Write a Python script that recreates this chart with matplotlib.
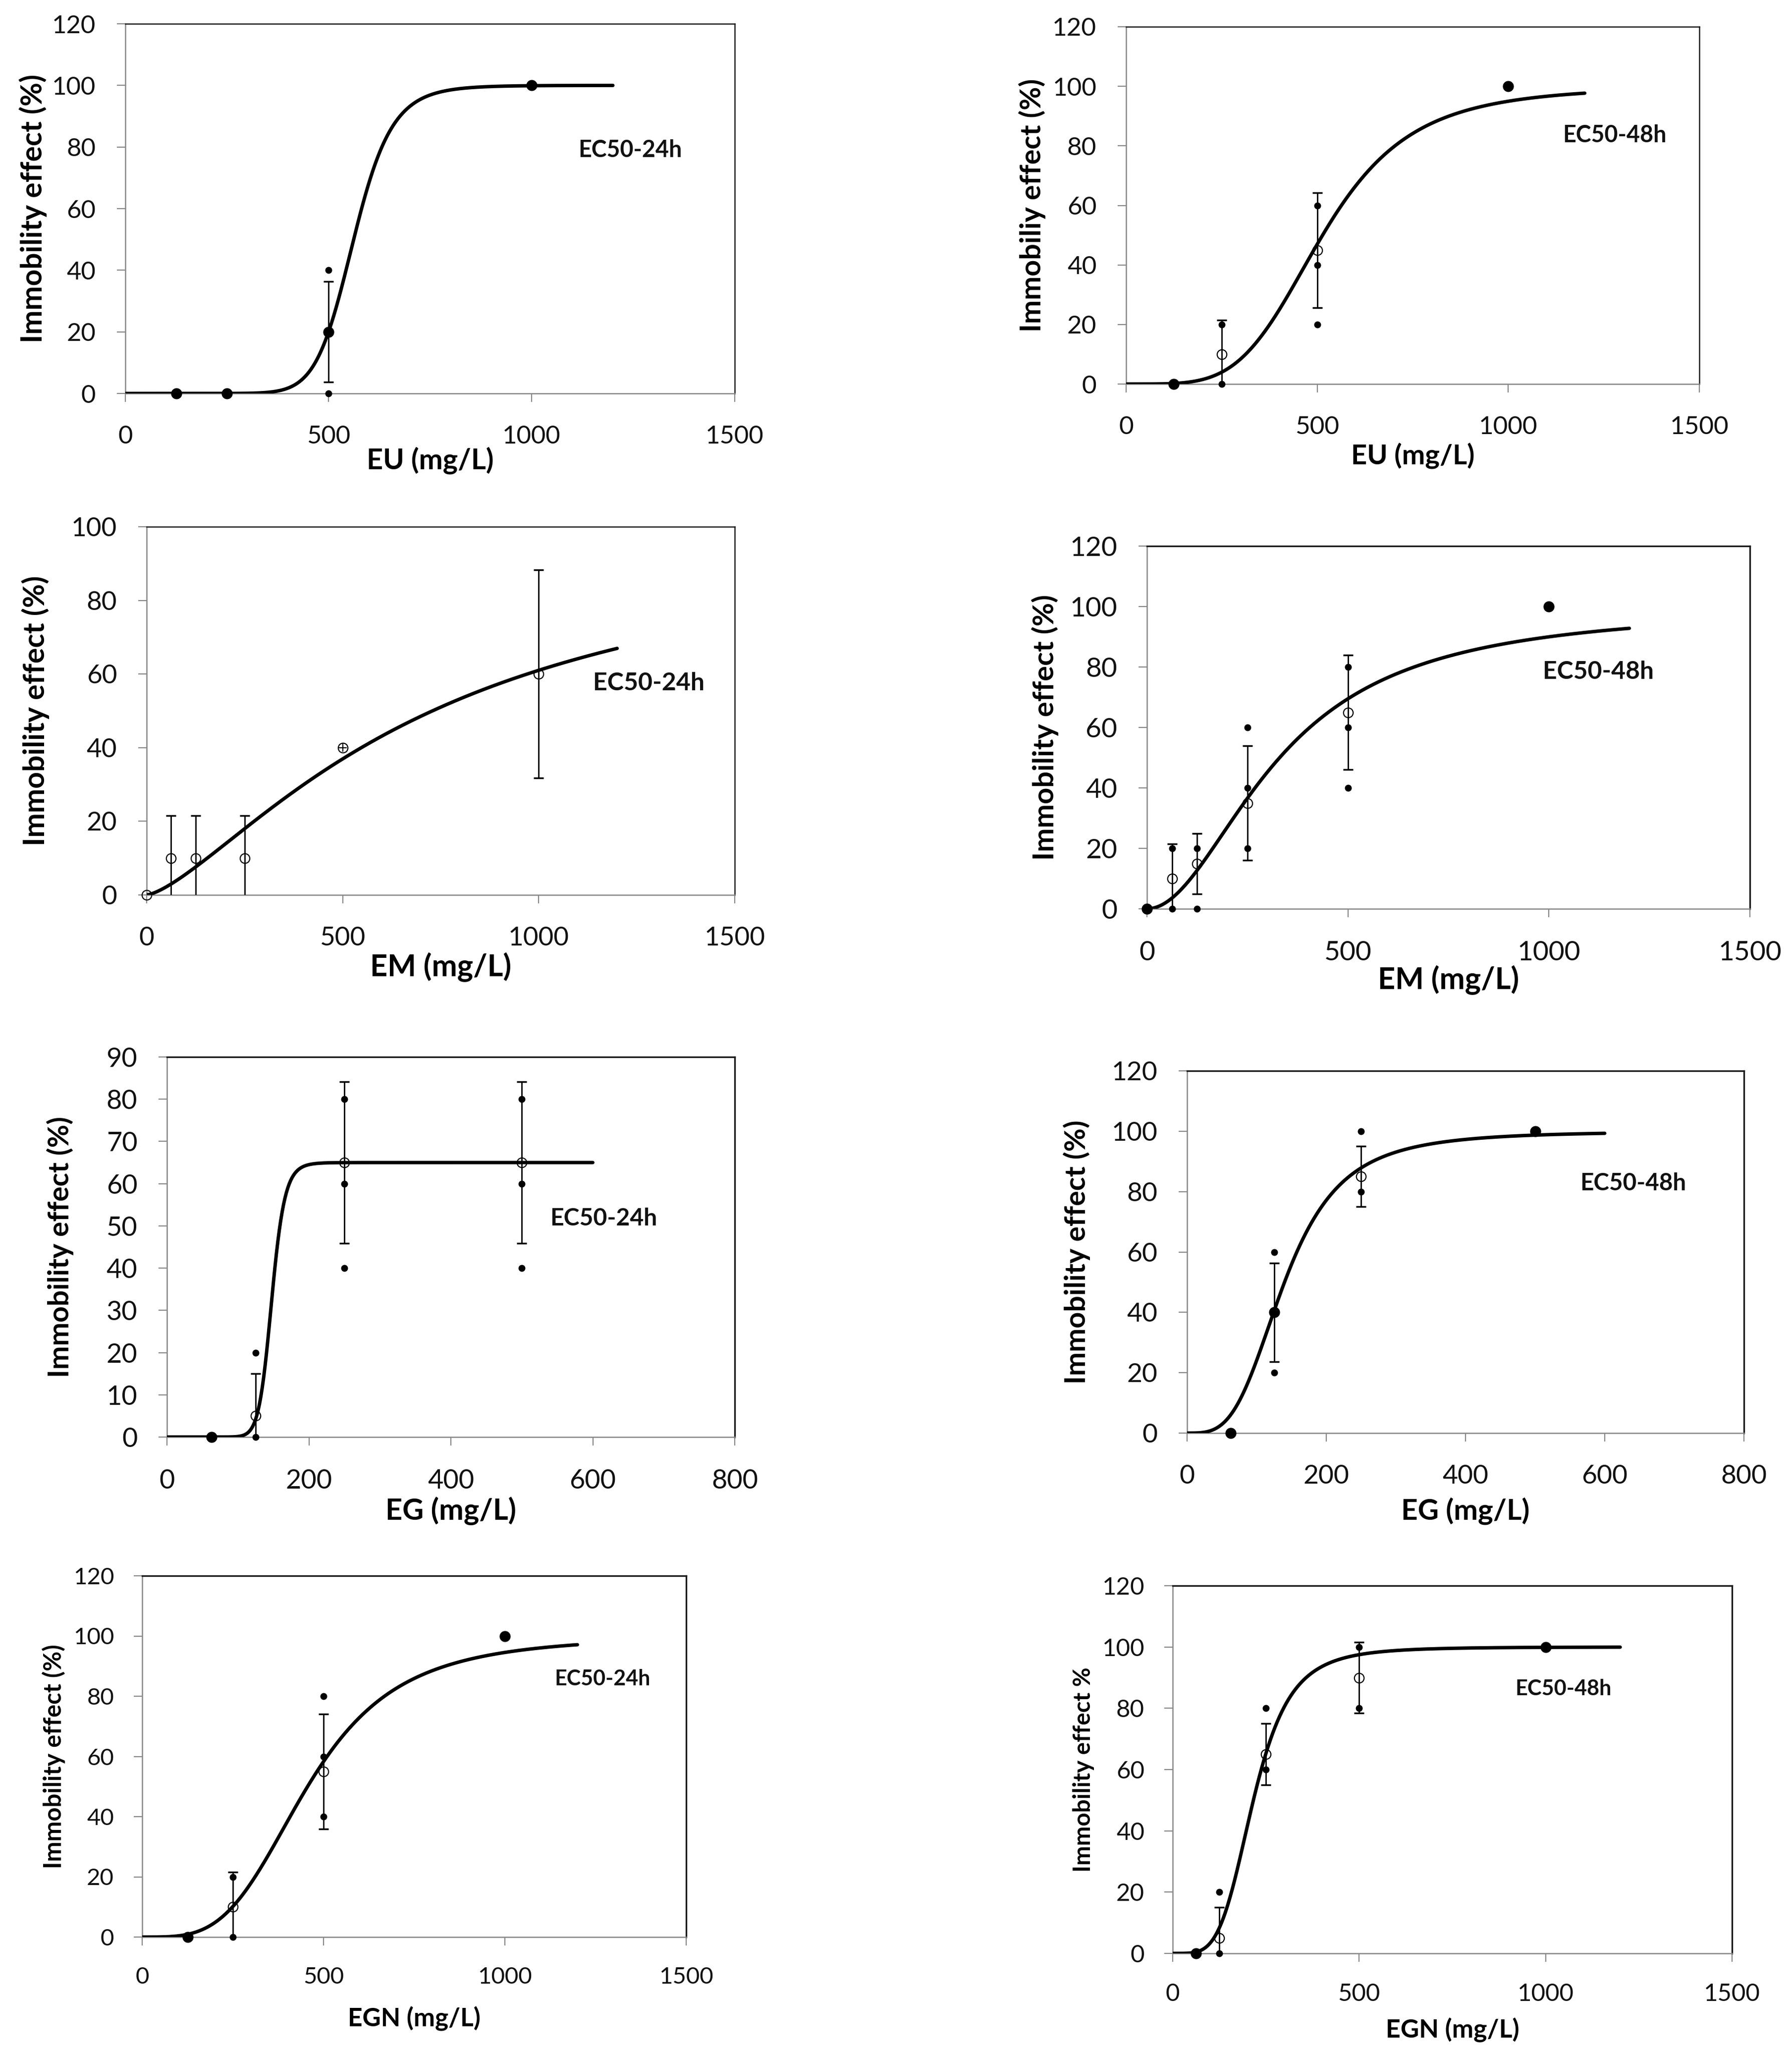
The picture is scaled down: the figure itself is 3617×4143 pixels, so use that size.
import numpy as np
import matplotlib
matplotlib.use("Agg")
import matplotlib.pyplot as plt

plt.rcParams['font.family'] = ['Lato', 'DejaVu Sans']

# ---------------- data ----------------
# EU 24h
EU24_conc = [125, 250, 500, 1000]
EU24_mean = [0, 0, 20, 100]
EU24_sd = [0, 0, 16.3, 0]
EU24_open = [False, False, False, False]
EU24_rep_conc = [500, 500]
EU24_rep_val = [40, 0]
EU24_fit = (100, 562, 11.9)      # top, EC50, Hill slope of fitted curve

# EU 48h
EU48_conc = [125, 250, 500, 1000]
EU48_mean = [0, 10, 45, 100]
EU48_sd = [0, 11.5, 19.3, 0]
EU48_open = [False, True, True, False]
EU48_rep_conc = [250, 250, 500, 500, 500]
EU48_rep_val = [20, 0, 60, 40, 20]
EU48_fit = (100, 514, 4.42)

# EM 24h
EM24_conc = [0, 62.5, 125, 250, 500, 1000]
EM24_mean = [0, 10, 10, 10, 40, 60]
EM24_sd = [0, 11.5, 11.5, 11.5, 0, 28.3]
EM24_open = [True, True, True, True, True, True]
EM24_rep_conc = []
EM24_rep_val = []
EM24_fit = (100, 729, 1.417)

# EM 48h
EM48_conc = [0, 62.5, 125, 250, 500, 1000]
EM48_mean = [0, 10, 15, 35, 65, 100]
EM48_sd = [0, 11.5, 10, 19, 19, 0]
EM48_open = [False, True, True, True, True, False]
EM48_rep_conc = [62.5, 62.5, 125, 125, 250, 250, 250, 500, 500, 500]
EM48_rep_val = [20, 0, 20, 0, 60, 40, 20, 80, 60, 40]
EM48_fit = (100, 330, 1.98)

# EG 24h
EG24_conc = [62.5, 125, 250, 500]
EG24_mean = [0, 5, 65, 65]
EG24_sd = [0, 10, 19.1, 19.1]
EG24_open = [False, True, True, True]
EG24_rep_conc = [125, 125, 250, 250, 250, 500, 500, 500]
EG24_rep_val = [20, 0, 80, 60, 40, 80, 60, 40]
EG24_fit = (65, 147.6, 16.0)

# EG 48h
EG48_conc = [62.5, 125, 250, 500]
EG48_mean = [0, 40, 85, 100]
EG48_sd = [0, 16.3, 10, 0]
EG48_open = [False, False, True, False]
EG48_rep_conc = [125, 125, 250, 250]
EG48_rep_val = [60, 20, 100, 80]
EG48_fit = (100, 140, 3.41)

# EGN 24h
EGN24_conc = [125, 250, 500, 1000]
EGN24_mean = [0, 10, 55, 100]
EGN24_sd = [0, 11.5, 19.1, 0]
EGN24_open = [False, True, True, False]
EGN24_rep_conc = [250, 250, 500, 500, 500]
EGN24_rep_val = [20, 0, 80, 60, 40]
EGN24_fit = (100, 456, 3.63)

# EGN 48h
EGN48_conc = [62.5, 125, 250, 500, 1000]
EGN48_mean = [0, 5, 65, 90, 100]
EGN48_sd = [0, 10, 10, 11.5, 0]
EGN48_open = [False, True, True, True, False]
EGN48_rep_conc = [125, 125, 250, 250, 500, 500]
EGN48_rep_val = [20, 0, 80, 60, 100, 80]
EGN48_fit = (100, 216.4, 4.37)

xticks_1500 = [0, 500, 1000, 1500]
xticks_800 = [0, 200, 400, 600, 800]
yticks_120 = [0, 20, 40, 60, 80, 100, 120]
yticks_100 = [0, 20, 40, 60, 80, 100]
yticks_90 = [0, 10, 20, 30, 40, 50, 60, 70, 80, 90]

labels_x = ["EU (mg/L)", "EU (mg/L)", "EM (mg/L)", "EM (mg/L)",
            "EG (mg/L)", "EG (mg/L)", "EGN (mg/L)", "EGN (mg/L)"]
labels_y = ["Immobility effect (%)", "Immobiliy effect (%)",
            "Immobility effect (%)", "Immobility effect (%)",
            "Immobility effect (%)", "Immobility effect (%)",
            "Immobility effect (%)", "Immobility effect %"]
labels_ec = ["EC50-24h", "EC50-48h", "EC50-24h", "EC50-48h",
             "EC50-24h", "EC50-48h", "EC50-24h", "EC50-48h"]

# ---------------- layout ----------------
W, H = 3617, 4143
fig = plt.figure(figsize=(W / 100, H / 100), dpi=100)
fig.patch.set_facecolor('white')

# (left, right, top, bottom) in pixels
boxes = [(253, 1483, 48, 794), (2273, 3430, 54, 775),
         (296, 1483, 1063, 1806), (2315, 3532, 1102, 1834),
         (337, 1483, 2133, 2900), (2396, 3520, 2161, 2892),
         (287, 1385, 3180, 3909), (2367, 3496, 3200, 3942)]

panels = [
    (EU24_conc, EU24_mean, EU24_sd, EU24_open, EU24_rep_conc, EU24_rep_val, EU24_fit, 1500, 1200, xticks_1500, 120, yticks_120, (1243, 79)),
    (EU48_conc, EU48_mean, EU48_sd, EU48_open, EU48_rep_conc, EU48_rep_val, EU48_fit, 1500, 1200, xticks_1500, 120, yticks_120, (1278, 83.5)),
    (EM24_conc, EM24_mean, EM24_sd, EM24_open, EM24_rep_conc, EM24_rep_val, EM24_fit, 1500, 1200, xticks_1500, 100, yticks_100, (1281, 57.5)),
    (EM48_conc, EM48_mean, EM48_sd, EM48_open, EM48_rep_conc, EM48_rep_val, EM48_fit, 1500, 1200, xticks_1500, 120, yticks_120, (1123, 78.4)),
    (EG24_conc, EG24_mean, EG24_sd, EG24_open, EG24_rep_conc, EG24_rep_val, EG24_fit, 800, 600, xticks_800, 90, yticks_90, (615, 51.7)),
    (EG48_conc, EG48_mean, EG48_sd, EG48_open, EG48_rep_conc, EG48_rep_val, EG48_fit, 800, 600, xticks_800, 120, yticks_120, (641, 82.7)),
    (EGN24_conc, EGN24_mean, EGN24_sd, EGN24_open, EGN24_rep_conc, EGN24_rep_val, EGN24_fit, 1500, 1200, xticks_1500, 120, yticks_120, (1270, 85.8)),
    (EGN48_conc, EGN48_mean, EGN48_sd, EGN48_open, EGN48_rep_conc, EGN48_rep_val, EGN48_fit, 1500, 1200, xticks_1500, 120, yticks_120, (1048, 86.4)),
]

# text extents measured on the reference (pixels)
ylab_off = [186, 190, 224, 206, 216, 223, 179, 180]
xlab_off = [135, 145, 146, 144, 149, 157, 165, 155]
ylab_len = [543, 512, 546, 537, 528, 534, 454, 415]
xlab_w = [256, 249, 285, 285, 263, 259, 267, 269]
ec_w = [210, 210, 226, 225, 217, 215, 194, 195]
tick_w = [118, 119, 123, 128, 94, 93, 110, 114]

GREY = '#878787'
renderer = fig.canvas.get_renderer()


def fit_size(ax, s, target, weight='normal'):
    t = ax.text(0, 0, s, fontsize=20, fontweight=weight, transform=ax.transAxes)
    w = t.get_window_extent(renderer=renderer).width
    t.remove()
    return 20 * target / w


for i, (box, p) in enumerate(zip(boxes, panels)):
    (conc, mean, sd, is_open, rc, rv, fit, xmax, xfit, xt, ymax, yt, ecpos) = p
    l, r, t, b = box
    ax = fig.add_axes([l / W, 1 - b / H, (r - l) / W, (b - t) / H])
    row4 = i >= 6
    tick_fs = fit_size(ax, str(xt[-1]), tick_w[i])
    xl_fs = fit_size(ax, labels_x[i], xlab_w[i], 'bold')
    ec_fs = fit_size(ax, labels_ec[i], ec_w[i], 'bold')

    # fitted dose-response curve (log-logistic with parameters)
    top, ec50, hill = fit
    xs = np.linspace(0, xfit, 600)
    ys = top * xs ** hill / (xs ** hill + ec50 ** hill)
    ax.plot(xs, ys, color='black', lw=5, solid_capstyle='round', zorder=4)

    # error bars
    ex = [c for c, s in zip(conc, sd) if s > 0]
    ey = [m for m, s in zip(mean, sd) if s > 0]
    es = [s for s in sd if s > 0]
    if ex:
        ax.errorbar(ex, ey, yerr=es, fmt='none', ecolor='black',
                    elinewidth=2.0, capsize=7, capthick=2.5, zorder=3)

    # replicate points
    if rc:
        ax.plot(rc, rv, 'o', color='black', ms=9, zorder=5, clip_on=False)

    # means
    fx = [c for c, o in zip(conc, is_open) if not o]
    fy = [m for m, o in zip(mean, is_open) if not o]
    ox = [c for c, o in zip(conc, is_open) if o]
    oy = [m for m, o in zip(mean, is_open) if o]
    if fx:
        ax.plot(fx, fy, 'o', color='black', ms=15, zorder=6, clip_on=False)
    if ox:
        ax.plot(ox, oy, 'o', mfc='none', mec='black', mew=1.6, ms=14,
                zorder=6, clip_on=False)
    if i == 2:
        ax.plot([500], [40], '+', color='black', ms=11, mew=1.6, zorder=7)

    ax.set_xlim(0, xmax)
    ax.set_ylim(0, ymax)
    ax.set_xticks(xt)
    ax.set_yticks(yt)
    ax.set_xticklabels([str(v) for v in xt])
    ax.set_yticklabels([str(v) for v in yt])

    for s in ['left', 'bottom']:
        ax.spines[s].set_color(GREY)
        ax.spines[s].set_linewidth(1.8)
    for s in ['top', 'right']:
        ax.spines[s].set_color('#1a1a1a')
        ax.spines[s].set_linewidth(1.8 if i < 3 else 2.4)

    ax.tick_params(axis='both', direction='out', length=12, width=1.6,
                   color=GREY, labelsize=tick_fs, labelcolor='#111111')
    ax.tick_params(axis='x', pad=31 if row4 else 34)
    ax.tick_params(axis='y', pad=29 if row4 else 31)

    ax.set_xlabel(labels_x[i], fontsize=xl_fs, fontweight='bold')
    ax.xaxis.label.set_va('center')
    ax.xaxis.set_label_coords(0.5, -xlab_off[i] / (b - t))

    yl = ax.set_ylabel(labels_y[i], fontsize=34, fontweight='bold')
    ext = yl.get_window_extent(renderer=renderer)
    yl.set_fontsize(34 * ylab_len[i] / ext.height)
    yl.set_va('center')
    ax.yaxis.set_label_coords(-ylab_off[i] / (r - l), 0.5)

    ax.text(ecpos[0], ecpos[1], labels_ec[i], fontsize=ec_fs,
            fontweight='bold', ha='center', va='center', color='#111111')

fig.savefig('out.png', dpi=100, facecolor='white')
